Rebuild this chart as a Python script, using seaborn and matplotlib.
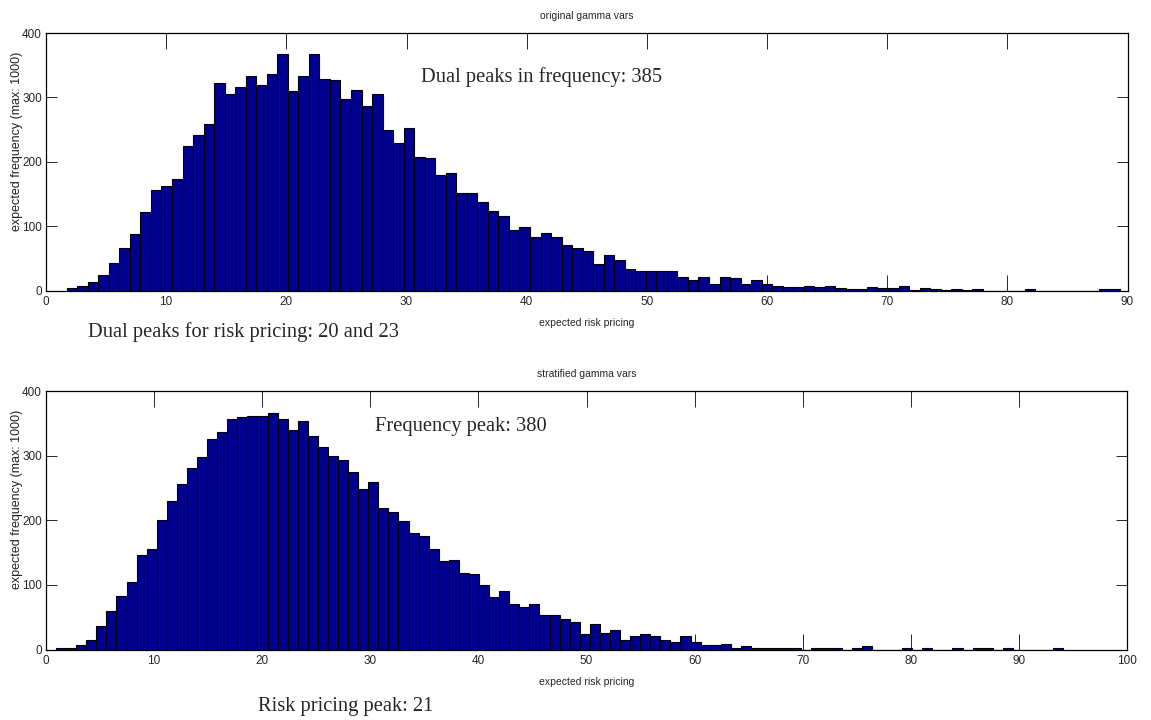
import matplotlib
matplotlib.use("Agg")
import matplotlib.pyplot as plt
import numpy as np
import pandas as pd
import seaborn as sns

# counts per bin, 100 bins each
original_counts = [
    4, 8, 13, 25, 43, 66, 88, 122, 156, 162,
    173, 225, 241, 258, 323, 306, 316, 333, 319, 337,
    368, 310, 333, 367, 329, 327, 297, 312, 287, 306,
    250, 230, 252, 208, 206, 179, 183, 151, 152, 137,
    124, 116, 94, 99, 84, 89, 84, 71, 66, 62,
    42, 55, 48, 34, 31, 31, 31, 31, 21, 17,
    21, 11, 21, 19, 10, 17, 10, 7, 5, 5,
    8, 5, 8, 4, 2, 2, 6, 4, 4, 8,
    1, 4, 2, 1, 2, 1, 2, 0, 0, 0,
    0, 2, 0, 0, 0, 0, 0, 0, 2, 2,
]
stratified_counts = [
    2, 3, 7, 15, 36, 59, 83, 104, 146, 156,
    200, 230, 256, 281, 298, 326, 337, 356, 359, 361,
    361, 366, 357, 340, 353, 330, 314, 300, 293, 274,
    249, 259, 219, 212, 199, 181, 175, 156, 137, 139,
    119, 117, 100, 81, 91, 70, 66, 70, 53, 53,
    47, 43, 24, 39, 26, 30, 15, 21, 24, 21,
    15, 11, 21, 11, 7, 7, 9, 3, 6, 3,
    3, 3, 3, 3, 0, 3, 2, 2, 0, 3,
    6, 0, 0, 0, 2, 0, 2, 0, 0, 2,
    0, 2, 3, 0, 2, 0, 0, 0, 0, 2,
]
# range covered by the bins (min / max of the sampled values)
original_range = (1.72, 89.35)
stratified_range = (0.93, 94.1)

titles = ["original gamma vars", "stratified gamma vars"]
xlims = [90, 100]
xlabel = "expected risk pricing"
ylabel = "expected frequency (max: 1000)"
notes_top = ["Dual peaks in frequency: 385", "Dual peaks for risk pricing: 20 and 23"]
notes_bottom = ["Frequency peak: 380", "Risk pricing peak: 21"]


def make_df(counts, rng):
    edges = np.linspace(rng[0], rng[1], len(counts) + 1)
    centers = (edges[:-1] + edges[1:]) / 2
    return pd.DataFrame({"value": centers, "count": counts})


sns.set_style("ticks")
plt.rcParams["font.family"] = ["Liberation Sans", "DejaVu Sans"]

W, H = 1151, 720
fig = plt.figure(figsize=(W / 100, H / 100), dpi=100)


def px_rect(l, t, r, b):
    return [l / W, 1 - b / H, (r - l) / W, (b - t) / H]


ax_top = fig.add_axes(px_rect(46, 33, 1127.5, 290.7))
ax_bot = fig.add_axes(px_rect(46, 391, 1127, 649.5))

bar_color = "#000090"

for ax, counts, rng, title, xmax in [
    (ax_top, original_counts, original_range, titles[0], xlims[0]),
    (ax_bot, stratified_counts, stratified_range, titles[1], xlims[1]),
]:
    df = make_df(counts, rng)
    sns.histplot(data=df, x="value", weights="count", bins=len(counts),
                 binrange=rng, ax=ax, color=bar_color, edgecolor="black",
                 linewidth=0.8, alpha=1)
    ax.set_xlim(0, xmax)
    ax.set_ylim(0, 400)
    ax.set_xticks(np.arange(0, xmax + 1, 10))
    ax.set_yticks(np.arange(0, 401, 100))
    ax.set_title(title, fontsize=7.5, pad=10)
    ax.set_xlabel(xlabel, fontsize=7.5, labelpad=7)
    ax.set_ylabel(ylabel, fontsize=9, color="#222222")
    ax.yaxis.set_label_coords(-0.021, 0.58)
    ax.tick_params(axis="x", direction="in", length=11.5, width=0.7,
                   top=True, labelsize=8.5, pad=4)
    ax.tick_params(axis="y", direction="in", length=8, width=0.7,
                   right=True, labelsize=8.5, pad=3)
    for s in ax.spines.values():
        s.set_visible(True)
        s.set_color("black")
        s.set_linewidth(0.9)

serif = ["Liberation Serif", "DejaVu Serif"]
note_size = 14.8
fig.text(542 / W, 1 - 77 / H, notes_top[0], ha="center", va="center",
         fontsize=note_size, family=serif)
fig.text(244 / W, 1 - 332 / H, notes_top[1], ha="center", va="center",
         fontsize=note_size, family=serif)
fig.text(461 / W, 1 - 426 / H, notes_bottom[0], ha="center", va="center",
         fontsize=note_size, family=serif)
fig.text(346 / W, 1 - 707 / H, notes_bottom[1], ha="center", va="center",
         fontsize=note_size, family=serif)

fig.savefig("out.png", dpi=100)
